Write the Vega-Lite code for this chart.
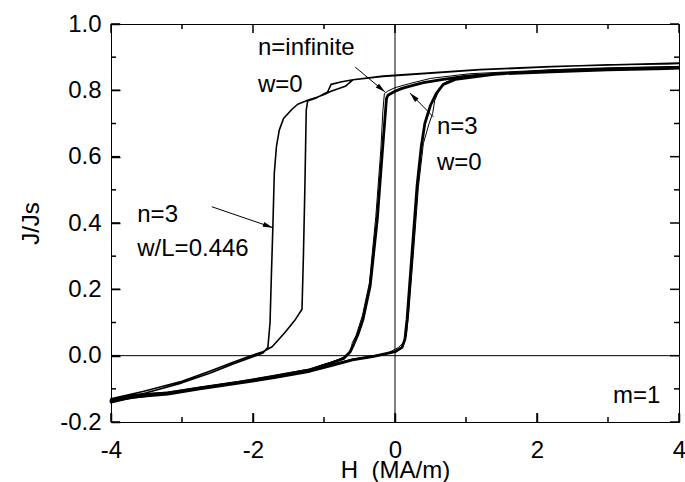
{
  "$schema": "https://vega.github.io/schema/vega-lite/v6.json",
  "width": 568,
  "height": 398,
  "autosize": "none",
  "padding": {"left": 111, "top": 24, "right": 6, "bottom": 60},
  "background": "white",
  "config": {
    "view": {"stroke": "black", "strokeWidth": 1},
    "font": "Liberation Sans",
    "axis": {
      "grid": false,
      "domainColor": "black",
      "labelColor": "black",
      "labelFont": "Liberation Sans",
      "labelFontSize": 24,
      "titleFont": "Liberation Sans",
      "titleFontSize": 24,
      "titleFontWeight": "normal",
      "titleColor": "black"
    }
  },
  "datasets": {
    "loops": [
      {"s": "A", "i": 0, "H": 4, "J": 0.88},
      {"s": "A", "i": 1, "H": 3, "J": 0.877},
      {"s": "A", "i": 2, "H": 2.2, "J": 0.871},
      {"s": "A", "i": 3, "H": 1.2, "J": 0.862},
      {"s": "A", "i": 4, "H": 0.5, "J": 0.852},
      {"s": "A", "i": 5, "H": -0.17, "J": 0.842},
      {"s": "A", "i": 6, "H": -0.59, "J": 0.832},
      {"s": "A", "i": 7, "H": -0.75, "J": 0.826},
      {"s": "A", "i": 8, "H": -0.9, "J": 0.818},
      {"s": "A", "i": 9, "H": -0.95, "J": 0.795},
      {"s": "A", "i": 10, "H": -1.1, "J": 0.778},
      {"s": "A", "i": 11, "H": -1.23, "J": 0.768},
      {"s": "A", "i": 12, "H": -1.25, "J": 0.74},
      {"s": "A", "i": 13, "H": -1.27, "J": 0.5},
      {"s": "A", "i": 14, "H": -1.29, "J": 0.3},
      {"s": "A", "i": 15, "H": -1.31, "J": 0.14},
      {"s": "A", "i": 16, "H": -1.4, "J": 0.11},
      {"s": "A", "i": 17, "H": -1.55, "J": 0.07},
      {"s": "A", "i": 18, "H": -1.73, "J": 0.027},
      {"s": "A", "i": 19, "H": -1.86, "J": 0.012},
      {"s": "A", "i": 20, "H": -2.0, "J": 0.002},
      {"s": "A", "i": 21, "H": -2.28, "J": -0.02},
      {"s": "A", "i": 22, "H": -2.61, "J": -0.047},
      {"s": "A", "i": 23, "H": -3.0, "J": -0.077},
      {"s": "A", "i": 24, "H": -3.55, "J": -0.108},
      {"s": "A", "i": 25, "H": -4, "J": -0.13},
      {"s": "A", "i": 26, "H": -4, "J": -0.14},
      {"s": "A", "i": 27, "H": -3.55, "J": -0.115},
      {"s": "A", "i": 28, "H": -3.0, "J": -0.082},
      {"s": "A", "i": 29, "H": -2.6, "J": -0.052},
      {"s": "A", "i": 30, "H": -2.28, "J": -0.025},
      {"s": "A", "i": 31, "H": -2.0, "J": -0.003},
      {"s": "A", "i": 32, "H": -1.86, "J": 0.008},
      {"s": "A", "i": 33, "H": -1.79, "J": 0.025},
      {"s": "A", "i": 34, "H": -1.76, "J": 0.1},
      {"s": "A", "i": 35, "H": -1.74, "J": 0.25},
      {"s": "A", "i": 36, "H": -1.72, "J": 0.39},
      {"s": "A", "i": 37, "H": -1.7, "J": 0.55},
      {"s": "A", "i": 38, "H": -1.67, "J": 0.63},
      {"s": "A", "i": 39, "H": -1.63, "J": 0.68},
      {"s": "A", "i": 40, "H": -1.57, "J": 0.715},
      {"s": "A", "i": 41, "H": -1.45, "J": 0.743},
      {"s": "A", "i": 42, "H": -1.37, "J": 0.758},
      {"s": "A", "i": 43, "H": -1.23, "J": 0.77},
      {"s": "A", "i": 44, "H": -1.1, "J": 0.779},
      {"s": "A", "i": 45, "H": -0.99, "J": 0.788},
      {"s": "A", "i": 46, "H": -0.9, "J": 0.797},
      {"s": "A", "i": 47, "H": -0.7, "J": 0.812},
      {"s": "A", "i": 48, "H": -0.59, "J": 0.832},
      {"s": "A", "i": 49, "H": -0.17, "J": 0.843},
      {"s": "A", "i": 50, "H": 1.2, "J": 0.863},
      {"s": "A", "i": 51, "H": 2.2, "J": 0.872},
      {"s": "A", "i": 52, "H": 4, "J": 0.882},

      {"s": "B", "i": 0, "H": 4, "J": 0.872},
      {"s": "B", "i": 1, "H": 3, "J": 0.868},
      {"s": "B", "i": 2, "H": 2.2, "J": 0.862},
      {"s": "B", "i": 3, "H": 1.05, "J": 0.85},
      {"s": "B", "i": 4, "H": 0.5, "J": 0.836},
      {"s": "B", "i": 5, "H": 0.2, "J": 0.82},
      {"s": "B", "i": 6, "H": 0, "J": 0.808},
      {"s": "B", "i": 7, "H": -0.1, "J": 0.798},
      {"s": "B", "i": 8, "H": -0.15, "J": 0.79},
      {"s": "B", "i": 9, "H": -0.17, "J": 0.74},
      {"s": "B", "i": 10, "H": -0.2, "J": 0.62},
      {"s": "B", "i": 11, "H": -0.27, "J": 0.42},
      {"s": "B", "i": 12, "H": -0.36, "J": 0.22},
      {"s": "B", "i": 13, "H": -0.46, "J": 0.12},
      {"s": "B", "i": 14, "H": -0.55, "J": 0.06},
      {"s": "B", "i": 15, "H": -0.6, "J": 0.04},
      {"s": "B", "i": 16, "H": -0.62, "J": 0.02},
      {"s": "B", "i": 17, "H": -0.68, "J": 0.0},
      {"s": "B", "i": 18, "H": -0.8, "J": -0.012},
      {"s": "B", "i": 19, "H": -1.2, "J": -0.04},
      {"s": "B", "i": 20, "H": -1.7, "J": -0.06},
      {"s": "B", "i": 21, "H": -2.2, "J": -0.078},
      {"s": "B", "i": 22, "H": -2.75, "J": -0.095},
      {"s": "B", "i": 23, "H": -3.2, "J": -0.11},
      {"s": "B", "i": 24, "H": -3.7, "J": -0.118},
      {"s": "B", "i": 25, "H": -4, "J": -0.132},
      {"s": "B", "i": 26, "H": -4, "J": -0.138},
      {"s": "B", "i": 27, "H": -3.2, "J": -0.114},
      {"s": "B", "i": 28, "H": -2.2, "J": -0.081},
      {"s": "B", "i": 29, "H": -1.2, "J": -0.044},
      {"s": "B", "i": 30, "H": -0.6, "J": -0.01},
      {"s": "B", "i": 31, "H": -0.3, "J": 0.0},
      {"s": "B", "i": 32, "H": -0.1, "J": 0.008},
      {"s": "B", "i": 33, "H": 0.05, "J": 0.025},
      {"s": "B", "i": 34, "H": 0.12, "J": 0.04},
      {"s": "B", "i": 35, "H": 0.16, "J": 0.06},
      {"s": "B", "i": 36, "H": 0.19, "J": 0.12},
      {"s": "B", "i": 37, "H": 0.26, "J": 0.31},
      {"s": "B", "i": 38, "H": 0.33, "J": 0.51},
      {"s": "B", "i": 39, "H": 0.4, "J": 0.64},
      {"s": "B", "i": 40, "H": 0.48, "J": 0.7},
      {"s": "B", "i": 41, "H": 0.53, "J": 0.73},
      {"s": "B", "i": 42, "H": 0.56, "J": 0.77},
      {"s": "B", "i": 43, "H": 0.62, "J": 0.8},
      {"s": "B", "i": 44, "H": 0.72, "J": 0.826},
      {"s": "B", "i": 45, "H": 1.0, "J": 0.84},
      {"s": "B", "i": 46, "H": 2.2, "J": 0.862},
      {"s": "B", "i": 47, "H": 4, "J": 0.872},

      {"s": "C", "i": 0, "H": 4, "J": 0.866},
      {"s": "C", "i": 1, "H": 3, "J": 0.862},
      {"s": "C", "i": 2, "H": 2.2, "J": 0.856},
      {"s": "C", "i": 3, "H": 1.5, "J": 0.85},
      {"s": "C", "i": 4, "H": 1.0, "J": 0.843},
      {"s": "C", "i": 5, "H": 0.68, "J": 0.833},
      {"s": "C", "i": 6, "H": 0.4, "J": 0.823},
      {"s": "C", "i": 7, "H": 0.2, "J": 0.812},
      {"s": "C", "i": 8, "H": 0.1, "J": 0.806},
      {"s": "C", "i": 9, "H": 0, "J": 0.797},
      {"s": "C", "i": 10, "H": -0.1, "J": 0.785},
      {"s": "C", "i": 11, "H": -0.12, "J": 0.775},
      {"s": "C", "i": 12, "H": -0.14, "J": 0.72},
      {"s": "C", "i": 13, "H": -0.18, "J": 0.61},
      {"s": "C", "i": 14, "H": -0.25, "J": 0.41},
      {"s": "C", "i": 15, "H": -0.35, "J": 0.21},
      {"s": "C", "i": 16, "H": -0.45, "J": 0.11},
      {"s": "C", "i": 17, "H": -0.52, "J": 0.065},
      {"s": "C", "i": 18, "H": -0.58, "J": 0.035},
      {"s": "C", "i": 19, "H": -0.63, "J": 0.012},
      {"s": "C", "i": 20, "H": -0.72, "J": -0.008},
      {"s": "C", "i": 21, "H": -0.9, "J": -0.022},
      {"s": "C", "i": 22, "H": -1.2, "J": -0.043},
      {"s": "C", "i": 23, "H": -1.7, "J": -0.062},
      {"s": "C", "i": 24, "H": -2.2, "J": -0.08},
      {"s": "C", "i": 25, "H": -2.75, "J": -0.097},
      {"s": "C", "i": 26, "H": -3.2, "J": -0.112},
      {"s": "C", "i": 27, "H": -3.7, "J": -0.12},
      {"s": "C", "i": 28, "H": -4, "J": -0.135},
      {"s": "C", "i": 29, "H": -4, "J": -0.14},
      {"s": "C", "i": 30, "H": -3.7, "J": -0.125},
      {"s": "C", "i": 31, "H": -3.2, "J": -0.116},
      {"s": "C", "i": 32, "H": -2.75, "J": -0.1},
      {"s": "C", "i": 33, "H": -2.2, "J": -0.083},
      {"s": "C", "i": 34, "H": -1.7, "J": -0.066},
      {"s": "C", "i": 35, "H": -1.2, "J": -0.047},
      {"s": "C", "i": 36, "H": -0.9, "J": -0.03},
      {"s": "C", "i": 37, "H": -0.6, "J": -0.013},
      {"s": "C", "i": 38, "H": -0.3, "J": -0.002},
      {"s": "C", "i": 39, "H": 0, "J": 0.012},
      {"s": "C", "i": 40, "H": 0.1, "J": 0.025},
      {"s": "C", "i": 41, "H": 0.14, "J": 0.05},
      {"s": "C", "i": 42, "H": 0.17, "J": 0.11},
      {"s": "C", "i": 43, "H": 0.24, "J": 0.31},
      {"s": "C", "i": 44, "H": 0.31, "J": 0.51},
      {"s": "C", "i": 45, "H": 0.37, "J": 0.63},
      {"s": "C", "i": 46, "H": 0.42, "J": 0.7},
      {"s": "C", "i": 47, "H": 0.5, "J": 0.755},
      {"s": "C", "i": 48, "H": 0.58, "J": 0.79},
      {"s": "C", "i": 49, "H": 0.68, "J": 0.818},
      {"s": "C", "i": 50, "H": 0.85, "J": 0.833},
      {"s": "C", "i": 51, "H": 1.5, "J": 0.851},
      {"s": "C", "i": 52, "H": 2.2, "J": 0.857},
      {"s": "C", "i": 53, "H": 3, "J": 0.863},
      {"s": "C", "i": 54, "H": 4, "J": 0.867}
    ],
    "arrows": [
      {"a": "inf", "H": -0.56, "J": 0.87, "H2": -0.14, "J2": 0.795},
      {"a": "w0", "H": 0.54, "J": 0.72, "H2": 0.21, "J2": 0.792},
      {"a": "wl", "H": -2.58, "J": 0.449, "H2": -1.72, "J2": 0.386}
    ],
    "labels": [
      {"t": "n=infinite", "H": -1.93, "J": 0.907},
      {"t": "w=0", "H": -1.93, "J": 0.795},
      {"t": "n=3", "H": 0.59, "J": 0.669},
      {"t": "w=0", "H": 0.59, "J": 0.56},
      {"t": "n=3", "H": -3.63, "J": 0.404},
      {"t": "w/L=0.446", "H": -3.63, "J": 0.301},
      {"t": "m=1", "H": 3.07, "J": -0.142}
    ],
    "ticksH": [
      {"v": -4, "k": "major"}, {"v": -3, "k": "minor"}, {"v": -2, "k": "major"}, {"v": -1, "k": "minor"},
      {"v": 0, "k": "major"}, {"v": 1, "k": "minor"}, {"v": 2, "k": "major"}, {"v": 3, "k": "minor"}, {"v": 4, "k": "major"}
    ],
    "ticksJ": [
      {"v": -0.2, "k": "major"}, {"v": -0.1, "k": "minor"}, {"v": 0, "k": "major"}, {"v": 0.1, "k": "minor"},
      {"v": 0.2, "k": "major"}, {"v": 0.3, "k": "minor"}, {"v": 0.4, "k": "major"}, {"v": 0.5, "k": "minor"},
      {"v": 0.6, "k": "major"}, {"v": 0.7, "k": "minor"}, {"v": 0.8, "k": "major"}, {"v": 0.9, "k": "minor"}, {"v": 1.0, "k": "major"}
    ],
    "zeroH": [{"H": 0}],
    "zeroJ": [{"J": 0}]
  },
  "layer": [
    {
      "data": {"name": "zeroH"},
      "mark": {"type": "rule", "color": "black", "strokeWidth": 1},
      "encoding": {
        "x": {"field": "H", "type": "quantitative", "scale": {"domain": [-4, 4], "nice": false, "zero": false}, "axis": null}
      }
    },
    {
      "data": {"name": "zeroJ"},
      "mark": {"type": "rule", "color": "black", "strokeWidth": 1},
      "encoding": {
        "y": {"field": "J", "type": "quantitative", "scale": {"domain": [-0.2, 1.0], "nice": false, "zero": false}, "axis": null}
      }
    },
    {
      "data": {"name": "ticksH"},
      "transform": [{"filter": "datum.k === 'major'"}],
      "mark": {"type": "rule", "color": "black", "strokeWidth": 1.5, "y2Offset": -9},
      "encoding": {
        "x": {"field": "v", "type": "quantitative", "scale": {"domain": [-4, 4], "nice": false, "zero": false}, "axis": null},
        "y": {"datum": -0.2, "type": "quantitative", "scale": {"domain": [-0.2, 1.0], "nice": false, "zero": false}, "axis": null},
        "y2": {"datum": -0.2}
      }
    },
    {
      "data": {"name": "ticksH"},
      "transform": [{"filter": "datum.k === 'minor'"}],
      "mark": {"type": "rule", "color": "black", "strokeWidth": 1.5, "y2Offset": -5},
      "encoding": {
        "x": {"field": "v", "type": "quantitative", "scale": {"domain": [-4, 4], "nice": false, "zero": false}, "axis": null},
        "y": {"datum": -0.2, "type": "quantitative", "scale": {"domain": [-0.2, 1.0], "nice": false, "zero": false}, "axis": null},
        "y2": {"datum": -0.2}
      }
    },
    {
      "data": {"name": "ticksH"},
      "transform": [{"filter": "datum.k === 'major'"}],
      "mark": {"type": "rule", "color": "black", "strokeWidth": 1.5, "y2Offset": 9},
      "encoding": {
        "x": {"field": "v", "type": "quantitative", "scale": {"domain": [-4, 4], "nice": false, "zero": false}, "axis": null},
        "y": {"datum": 1.0, "type": "quantitative", "scale": {"domain": [-0.2, 1.0], "nice": false, "zero": false}, "axis": null},
        "y2": {"datum": 1.0}
      }
    },
    {
      "data": {"name": "ticksH"},
      "transform": [{"filter": "datum.k === 'minor'"}],
      "mark": {"type": "rule", "color": "black", "strokeWidth": 1.5, "y2Offset": 5},
      "encoding": {
        "x": {"field": "v", "type": "quantitative", "scale": {"domain": [-4, 4], "nice": false, "zero": false}, "axis": null},
        "y": {"datum": 1.0, "type": "quantitative", "scale": {"domain": [-0.2, 1.0], "nice": false, "zero": false}, "axis": null},
        "y2": {"datum": 1.0}
      }
    },
    {
      "data": {"name": "ticksJ"},
      "transform": [{"filter": "datum.k === 'major'"}],
      "mark": {"type": "rule", "color": "black", "strokeWidth": 1.5, "x2Offset": 9},
      "encoding": {
        "y": {"field": "v", "type": "quantitative", "scale": {"domain": [-0.2, 1.0], "nice": false, "zero": false}, "axis": null},
        "x": {"datum": -4, "type": "quantitative", "scale": {"domain": [-4, 4], "nice": false, "zero": false}, "axis": null},
        "x2": {"datum": -4}
      }
    },
    {
      "data": {"name": "ticksJ"},
      "transform": [{"filter": "datum.k === 'minor'"}],
      "mark": {"type": "rule", "color": "black", "strokeWidth": 1.5, "x2Offset": 5},
      "encoding": {
        "y": {"field": "v", "type": "quantitative", "scale": {"domain": [-0.2, 1.0], "nice": false, "zero": false}, "axis": null},
        "x": {"datum": -4, "type": "quantitative", "scale": {"domain": [-4, 4], "nice": false, "zero": false}, "axis": null},
        "x2": {"datum": -4}
      }
    },
    {
      "data": {"name": "ticksJ"},
      "transform": [{"filter": "datum.k === 'major'"}],
      "mark": {"type": "rule", "color": "black", "strokeWidth": 1.5, "x2Offset": -9},
      "encoding": {
        "y": {"field": "v", "type": "quantitative", "scale": {"domain": [-0.2, 1.0], "nice": false, "zero": false}, "axis": null},
        "x": {"datum": 4, "type": "quantitative", "scale": {"domain": [-4, 4], "nice": false, "zero": false}, "axis": null},
        "x2": {"datum": 4}
      }
    },
    {
      "data": {"name": "ticksJ"},
      "transform": [{"filter": "datum.k === 'minor'"}],
      "mark": {"type": "rule", "color": "black", "strokeWidth": 1.5, "x2Offset": -5},
      "encoding": {
        "y": {"field": "v", "type": "quantitative", "scale": {"domain": [-0.2, 1.0], "nice": false, "zero": false}, "axis": null},
        "x": {"datum": 4, "type": "quantitative", "scale": {"domain": [-4, 4], "nice": false, "zero": false}, "axis": null},
        "x2": {"datum": 4}
      }
    },
    {
      "data": {"name": "loops"},
      "transform": [{"filter": "datum.s === 'A'"}],
      "mark": {"type": "line", "color": "black", "strokeWidth": 1.6, "strokeJoin": "round"},
      "encoding": {
        "x": {"field": "H", "type": "quantitative", "scale": {"domain": [-4, 4], "nice": false, "zero": false},
          "axis": {"orient": "bottom", "title": "H\u00a0\u00a0(MA/m)", "titlePadding": -4,
            "values": [-4, -2, 0, 2, 4], "ticks": true, "tickSize": -9, "tickColor": "black", "tickWidth": 1.5, "domain": true,
            "labelExpr": "replace(datum.label, '\u2212', '-')",
            "labelPadding": 25, "labelFlush": false}},
        "y": {"field": "J", "type": "quantitative", "scale": {"domain": [-0.2, 1.0], "nice": false, "zero": false},
          "axis": {"orient": "left", "title": "J/Js", "titlePadding": 16,
            "values": [-0.2, 0, 0.2, 0.4, 0.6, 0.8, 1.0], "ticks": true, "tickSize": -9, "tickColor": "black", "tickWidth": 1.5, "domain": true,
            "format": ".1f",
            "labelExpr": "replace(datum.label, '\u2212', '-')",
            "labelPadding": 19, "labelFlush": false}},
        "order": {"field": "i", "type": "quantitative"}
      }
    },
    {
      "data": {"name": "loops"},
      "transform": [{"filter": "datum.s === 'B'"}],
      "mark": {"type": "line", "color": "black", "strokeWidth": 1, "strokeJoin": "round"},
      "encoding": {
        "x": {"field": "H", "type": "quantitative", "scale": {"domain": [-4, 4], "nice": false, "zero": false}, "axis": null},
        "y": {"field": "J", "type": "quantitative", "scale": {"domain": [-0.2, 1.0], "nice": false, "zero": false}, "axis": null},
        "order": {"field": "i", "type": "quantitative"}
      }
    },
    {
      "data": {"name": "loops"},
      "transform": [{"filter": "datum.s === 'C'"}],
      "mark": {"type": "line", "color": "black", "strokeWidth": 2.8, "strokeJoin": "round"},
      "encoding": {
        "x": {"field": "H", "type": "quantitative", "scale": {"domain": [-4, 4], "nice": false, "zero": false}, "axis": null},
        "y": {"field": "J", "type": "quantitative", "scale": {"domain": [-0.2, 1.0], "nice": false, "zero": false}, "axis": null},
        "order": {"field": "i", "type": "quantitative"}
      }
    },
    {
      "data": {"name": "arrows"},
      "mark": {"type": "rule", "color": "black", "strokeWidth": 1},
      "encoding": {
        "x": {"field": "H", "type": "quantitative", "scale": {"domain": [-4, 4], "nice": false, "zero": false}, "axis": null},
        "y": {"field": "J", "type": "quantitative", "scale": {"domain": [-0.2, 1.0], "nice": false, "zero": false}, "axis": null},
        "x2": {"field": "H2"},
        "y2": {"field": "J2"}
      }
    },
    {
      "data": {"name": "arrows"},
      "transform": [{"filter": "datum.a === 'inf'"}],
      "mark": {"type": "point", "shape": "M0,0L-0.25,1L0.25,1Z", "filled": true, "color": "black", "size": 400, "angle": 130, "opacity": 1},
      "encoding": {
        "x": {"field": "H2", "type": "quantitative", "scale": {"domain": [-4, 4], "nice": false, "zero": false}, "axis": null},
        "y": {"field": "J2", "type": "quantitative", "scale": {"domain": [-0.2, 1.0], "nice": false, "zero": false}, "axis": null}
      }
    },
    {
      "data": {"name": "arrows"},
      "transform": [{"filter": "datum.a === 'w0'"}],
      "mark": {"type": "point", "shape": "M0,0L-0.25,1L0.25,1Z", "filled": true, "color": "black", "size": 400, "angle": 316, "opacity": 1},
      "encoding": {
        "x": {"field": "H2", "type": "quantitative", "scale": {"domain": [-4, 4], "nice": false, "zero": false}, "axis": null},
        "y": {"field": "J2", "type": "quantitative", "scale": {"domain": [-0.2, 1.0], "nice": false, "zero": false}, "axis": null}
      }
    },
    {
      "data": {"name": "arrows"},
      "transform": [{"filter": "datum.a === 'wl'"}],
      "mark": {"type": "point", "shape": "M0,0L-0.25,1L0.25,1Z", "filled": true, "color": "black", "size": 400, "angle": 109, "opacity": 1},
      "encoding": {
        "x": {"field": "H2", "type": "quantitative", "scale": {"domain": [-4, 4], "nice": false, "zero": false}, "axis": null},
        "y": {"field": "J2", "type": "quantitative", "scale": {"domain": [-0.2, 1.0], "nice": false, "zero": false}, "axis": null}
      }
    },
    {
      "data": {"name": "labels"},
      "mark": {"type": "text", "align": "left", "baseline": "alphabetic", "fontSize": 24, "font": "Liberation Sans", "color": "black"},
      "encoding": {
        "x": {"field": "H", "type": "quantitative", "scale": {"domain": [-4, 4], "nice": false, "zero": false}, "axis": null},
        "y": {"field": "J", "type": "quantitative", "scale": {"domain": [-0.2, 1.0], "nice": false, "zero": false}, "axis": null},
        "text": {"field": "t"}
      }
    }
  ],
  "resolve": {"axis": {"x": "independent", "y": "independent"}}
}
